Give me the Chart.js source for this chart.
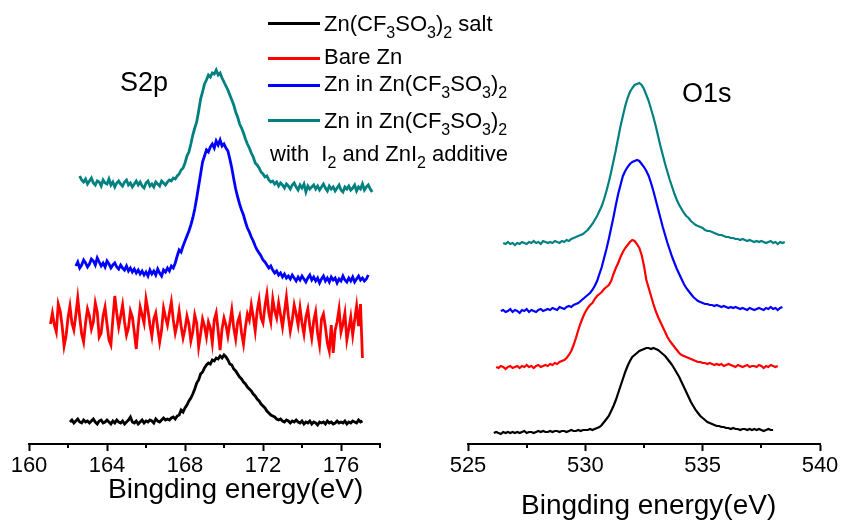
<!DOCTYPE html>
<html><head><meta charset="utf-8">
<script src="https://cdn.jsdelivr.net/npm/chart.js@4.4.0/dist/chart.umd.min.js"></script>
<style>
html,body{margin:0;padding:0;background:#fff;}
#wrap{position:relative;width:842px;height:526px;overflow:hidden;font-family:"Liberation Sans",Arial,sans-serif;color:#000;}
canvas{position:absolute;top:0;}
.t{position:absolute;white-space:nowrap;line-height:1;}
.lg{font-size:22px;}
.sw{position:absolute;height:3px;width:52px;left:268px;}
sub{font-size:16px;vertical-align:-7px;line-height:0;}
</style></head>
<body><div id="wrap">
<canvas id="c1" width="421" height="526" style="left:0"></canvas>
<canvas id="c2" width="421" height="526" style="left:421px"></canvas>
<div class="t" style="left:120px;top:69px;font-size:27px;">S2p</div>
<div class="t" style="left:682px;top:80px;font-size:27px;">O1s</div>
<div class="t" style="left:108px;top:475px;font-size:28px;">Bingding energy(eV)</div>
<div class="t" style="left:521px;top:491px;font-size:28px;">Bingding energy(eV)</div>
<div class="sw" style="top:22px;background:#000000"></div>
<div class="sw" style="top:57px;background:#ff0000"></div>
<div class="sw" style="top:84px;background:#0000ff"></div>
<div class="sw" style="top:119px;background:#008080"></div>
<div class="t lg" style="left:324px;top:13px;">Zn(CF<sub>3</sub>SO<sub>3</sub>)<sub>2</sub> salt</div>
<div class="t lg" style="left:324px;top:46px;">Bare Zn</div>
<div class="t lg" style="left:324px;top:73px;">Zn in Zn(CF<sub>3</sub>SO<sub>3</sub>)<sub>2</sub></div>
<div class="t lg" style="left:324px;top:110px;">Zn in Zn(CF<sub>3</sub>SO<sub>3</sub>)<sub>2</sub></div>
<div class="t lg" style="left:270px;top:143px;">with&nbsp; I<sub>2</sub> and ZnI<sub>2</sub> additive</div>
</div>
<script>
// ---------- DATA ----------
const seriesNames = ['Zn(CF3SO3)2 salt', 'Bare Zn', 'Zn in Zn(CF3SO3)2', 'Zn in Zn(CF3SO3)2 with I2 and ZnI2 additive'];
const seriesColors = ['#000000', '#ff0000', '#0000ff', '#008080'];
const energyStep = 0.1;

// S2p panel (binding energy start of each scan, eV)
const s2pStarts = [162.1, 161.1, 162.4, 162.6];
const s2pTickLabels = [160, 164, 168, 172, 176];
const s2pMinorTicks = [162, 166, 170, 174, 178];
const s2pBlack = [
22,24,21,23,25,22,21,24,22,23,
21,23,25,22,20,23,24,21,22,24,
22,20,23,21,24,22,21,23,20,22,
24,27,22,21,23,20,22,24,21,23,
22,24,23,21,25,23,22,24,26,24,
25,24,26,27,25,28,29,34,32,36,
39,43,46,50,55,61,64,70,72,76,
79,81,80,84,83,86,85,88,86,89,
87,84,80,79,75,73,70,67,65,62,
60,57,55,53,50,48,45,43,40,38,
36,33,31,29,28,27,25,24,25,23,
22,24,23,21,23,22,24,22,21,23,
20,22,21,23,20,22,21,19,22,21,
22,20,23,21,22,20,21,23,21,22,
21,23,20,22,21,23,22,21,24,22,
23];
const s2pRed = [
120,131,119,112,140,133,118,98,108,126,
138,121,114,129,146,127,110,102,121,135,
128,115,122,141,132,107,111,128,137,120,
104,99,125,148,131,117,128,139,122,109,
116,133,127,112,95,118,137,129,121,145,
134,119,108,125,131,116,102,114,136,127,
119,131,142,124,111,120,133,118,106,115,
128,120,103,112,129,121,97,110,125,118,
107,122,116,101,124,131,113,94,115,126,
119,108,121,134,116,105,122,128,111,100,
117,130,124,139,127,113,133,144,126,121,
138,150,131,122,145,133,126,141,129,117,
132,147,128,113,124,139,130,119,136,121,
110,127,135,118,106,123,132,111,99,125,
130,117,101,93,119,91,114,122,135,112,
120,131,104,115,127,109,124,138,118,140,
86];
const s2pBlue = [
178,182,176,179,184,181,177,180,185,183,
179,186,182,178,181,177,183,180,176,179,
181,177,175,179,176,174,178,173,176,172,
175,171,174,170,173,169,172,168,174,170,
173,169,175,171,168,174,172,176,173,178,
176,181,188,194,192,198,203,208,213,219,
226,235,246,258,270,282,288,294,292,297,
300,296,303,299,304,298,300,296,293,285,
276,265,255,247,240,234,229,222,216,212,
207,203,198,194,191,188,184,182,179,176,
178,174,171,173,169,171,167,170,166,168,
165,169,166,163,167,164,168,165,162,166,
169,164,167,163,166,161,165,168,163,166,
162,167,164,166,161,165,163,168,164,162,
166,163,167,162,165,168,164,166,163,165,
169];
const s2pTeal = [
268,264,262,265,260,263,266,261,259,263,
262,258,264,261,260,265,259,262,257,261,
263,260,258,262,264,259,261,257,260,263,
259,262,258,256,261,263,258,260,257,262,
260,258,263,261,259,262,264,263,266,265,
268,270,274,276,281,288,292,300,309,316,
322,333,345,352,360,364,369,367,371,370,
374,369,371,366,362,358,354,349,344,339,
332,327,320,316,311,305,300,296,291,287,
281,279,276,272,270,267,268,264,262,263,
260,262,258,261,259,256,260,258,255,259,
261,257,254,259,256,260,252,258,255,257,
259,255,258,254,257,260,256,253,258,255,
257,253,256,259,254,252,257,255,258,254,
256,259,253,257,255,260,254,257,259,255,
252];

// O1s panel
const o1sStarts = [526.1, 526.2, 526.4, 526.5];
const o1sTickLabels = [525, 530, 535, 540];
const o1sMinorTicks = [527.5, 532.5, 537.5];
const o1sBlack = [
11,12,11,10,12,11,12,11,12,11,
12,11,12,13,11,12,12,11,12,13,
12,13,12,12,13,12,13,13,12,13,
13,12,13,14,13,13,14,13,14,14,
14,15,14,15,16,17,19,22,25,28,
33,38,44,51,58,65,72,78,83,87,
89,91,93,94,95,96,96,95,96,95,
94,92,90,88,85,82,79,75,71,67,
62,57,52,47,42,38,34,31,28,26,
24,22,21,20,19,18,18,17,17,16,
16,15,16,15,15,14,15,15,14,15,
14,15,14,15,14,13,14,15,14,14];
const o1sRed = [
77,76,78,77,75,77,78,76,77,78,
76,78,77,79,77,78,76,78,79,77,
78,79,78,80,79,81,80,82,83,84,
86,89,93,99,106,114,121,127,132,136,
139,141,145,148,150,152,155,157,159,163,
170,176,181,187,192,196,199,202,204,203,
200,196,189,178,164,156,148,140,133,127,
122,117,112,107,103,100,97,94,91,89,
88,87,86,85,84,83,82,82,81,81,
80,81,80,79,80,79,80,78,79,80,
79,78,77,79,78,77,78,79,77,78,
78,77,79,78,76,78,77,79,78,77,
78];
const o1sBlue = [
133,134,132,133,135,132,134,133,131,134,
133,135,132,134,133,132,134,135,133,134,
135,134,136,135,134,137,136,135,137,138,
137,139,140,141,143,145,147,149,151,154,
158,163,170,177,186,195,205,216,227,239,
250,259,268,273,277,280,282,283,284,283,
280,277,273,268,261,253,244,235,226,217,
209,201,194,187,181,175,170,165,160,156,
153,150,147,145,143,142,141,140,140,139,
139,138,139,138,137,138,137,136,137,136,
137,136,135,136,135,134,136,135,134,135,
136,135,134,136,135,137,135,136,134,136,
137];
const o1sTeal = [
201,200,202,200,201,199,201,200,202,201,
200,202,201,203,201,202,200,203,202,201,
202,201,203,202,201,203,202,204,203,205,
206,207,208,209,210,212,214,217,220,224,
228,233,238,245,253,262,272,283,294,306,
318,328,338,346,352,356,359,360,361,359,
355,349,343,335,327,318,308,298,289,280,
272,264,257,250,244,239,235,231,228,226,
223,221,219,218,217,216,214,213,213,212,
211,210,209,209,208,207,207,206,206,205,
205,204,205,204,203,204,203,202,203,202,
203,202,201,202,203,201,202,200,202,201,
202];

// ---------- BUILD ----------
function toPoints(vals, start) {
  return vals.map((v, i) => ({ x: +(start + i * energyStep).toFixed(2), y: v }));
}
function makeDatasets(list, starts, width) {
  return list.map((vals, k) => ({
    label: seriesNames[k],
    data: toPoints(vals, starts[k]),
    borderColor: seriesColors[k],
    backgroundColor: seriesColors[k],
    borderWidth: width,
    pointRadius: 0,
    tension: 0,
    fill: false
  }));
}
const minorTicks = {
  id: 'minorTicks',
  afterDraw(chart, args, opts) {
    const s = chart.scales.x, ctx = chart.ctx;
    ctx.save();
    ctx.strokeStyle = '#000';
    ctx.lineWidth = 2;
    opts.values.forEach(v => {
      const px = Math.round(s.getPixelForValue(v));
      ctx.beginPath();
      ctx.moveTo(px, s.top);
      ctx.lineTo(px, s.top + opts.len);
      ctx.stroke();
    });
    ctx.restore();
  }
};
function makeChart(id, datasets, xmin, xmax, step, labels, minors, pad, lw) {
  return new Chart(document.getElementById(id), {
    type: 'line',
    data: { datasets: makeDatasets(datasets, pad.starts, lw) },
    plugins: [minorTicks],
    options: {
      responsive: false,
      animation: false,
      devicePixelRatio: 1,
      layout: { padding: { left: pad.left, right: pad.right, top: 0, bottom: 0 } },
      plugins: { legend: { display: false }, tooltip: { enabled: false }, minorTicks: { values: minors, len: 4 } },
      scales: {
        x: {
          type: 'linear', min: xmin, max: xmax,
          afterFit: (s) => { s.height = 82; },
          border: { display: true, color: '#000', width: 2 },
          grid: {
            display: true, drawOnChartArea: false, drawTicks: true, tickLength: 7, tickWidth: 2,
            tickColor: (c) => labels.includes(c.tick && c.tick.value) ? '#000' : 'rgba(0,0,0,0)'
          },
          ticks: {
            stepSize: step, autoSkip: false, maxRotation: 0, padding: 2, color: '#000',
            font: { family: '"Liberation Sans", Arial, sans-serif', size: 22 },
            callback: (v) => labels.includes(v) ? String(v) : ''
          }
        },
        y: { display: false, min: 0, max: 444 }
      }
    }
  });
}
makeChart('c1', [s2pBlack, s2pRed, s2pBlue, s2pTeal], 160, 178, 2, s2pTickLabels, s2pMinorTicks,
  { left: 29, right: 41, starts: s2pStarts }, 2.8);
makeChart('c2', [o1sBlack, o1sRed, o1sBlue, o1sTeal], 525, 540, 2.5, o1sTickLabels, o1sMinorTicks,
  { left: 47, right: 22, starts: o1sStarts }, 2.2);
</script>
</body></html>
